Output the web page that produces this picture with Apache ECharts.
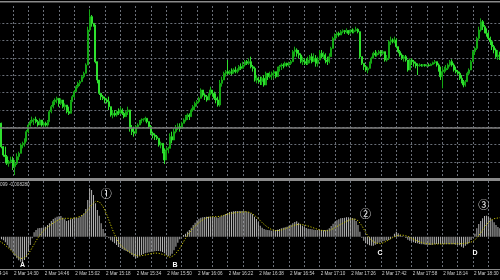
<!DOCTYPE html>
<html><head><meta charset="utf-8">
<script src="https://cdn.jsdelivr.net/npm/echarts@6/dist/echarts.min.js"></script>
<style>html,body{margin:0;padding:0;background:#000;}#c{width:500px;height:280px;}</style>
</head><body><div id="c"></div>
<script>
// minute offset (relative to 2 Mar 14:30) of the first visible M1 bar (14:23)
const firstBarOffset = -7;
const sessionStartLabel = '2 Mar';
// [open, close, low, high] of each M1 candle (price in chart points)
const candles = [
[98,168,93,173],[168,98,93,170],[98,73,68,100],[73,68,48,98],[68,48,43,73],[48,53,38,58],[53,58,48,68],[58,38,28,68],[38,48,13,58],[48,68,43,78],
[68,78,58,83],[78,103,78,108],[103,108,93,113],[108,118,98,123],[118,143,113,148],[143,163,138,168],[163,173,158,178],[173,178,168,188],[178,180,163,183],[180,173,168,188],
[173,163,158,178],[163,178,163,183],[178,163,158,178],[163,168,158,173],[168,163,158,173],[163,173,158,178],[173,203,173,208],[203,218,198,223],[218,233,213,238],[233,238,223,243],
[238,243,228,248],[243,228,218,243],[228,238,223,243],[238,218,213,238],[218,223,208,228],[223,203,198,223],[203,198,193,218],[198,233,198,238],[233,248,233,253],[248,263,243,268],
[263,278,263,283],[278,288,273,293],[288,293,280,298],[293,308,293,313],[308,318,303,323],[318,343,318,348],[343,448,343,458],[448,488,443,510],[488,468,458,493],[468,463,458,468],
[463,353,348,463],[353,298,288,353],[298,258,253,298],[258,248,238,258],[248,243,238,253],[243,238,228,248],[238,233,228,243],[233,218,208,248],[218,193,188,218],[193,198,183,208],
[198,193,188,208],[193,203,188,208],[203,198,193,213],[198,208,198,218],[208,198,193,213],[198,188,183,203],[188,203,188,208],[203,208,193,218],[208,153,143,208],[153,143,133,163],
[143,138,128,158],[138,158,138,163],[158,163,153,168],[163,173,163,178],[173,178,168,183],[178,180,173,183],[180,183,173,188],[183,173,168,183],[173,158,153,173],[158,138,133,163],
[138,133,123,143],[133,128,118,138],[128,123,118,133],[123,103,98,123],[103,108,93,113],[108,83,78,108],[83,58,46,93],[58,88,58,98],[88,93,78,98],[93,128,93,138],
[128,118,108,143],[118,143,118,153],[143,153,138,163],[153,158,148,168],[158,153,143,168],[153,168,153,173],[168,178,168,183],[178,188,173,193],[188,193,178,198],[193,188,178,198],
[188,208,188,213],[208,218,203,223],[218,228,208,233],[228,233,218,238],[233,243,228,248],[243,268,243,273],[268,253,248,268],[253,248,238,258],[248,238,233,253],[238,253,238,258],
[253,268,253,278],[268,258,248,268],[258,243,238,263],[243,238,228,258],[238,223,218,248],[223,288,218,298],[288,298,278,308],[298,318,298,323],[318,323,308,328],[323,318,313,358],
[318,323,313,328],[323,318,313,333],[318,328,318,333],[328,323,318,338],[323,328,318,333],[328,338,323,343],[338,333,328,348],[333,343,333,353],[343,353,338,358],[353,348,343,358],
[348,353,343,363],[353,338,333,368],[338,333,323,343],[333,298,293,338],[298,303,288,313],[303,298,288,308],[298,293,283,308],[293,303,283,308],[303,283,278,313],[283,318,283,323],
[318,308,298,318],[308,313,303,323],[313,318,298,323],[318,323,303,328],[323,308,303,323],[308,333,308,338],[333,338,323,343],[338,343,328,348],[343,341,333,348],[341,348,338,353],
[348,343,338,350],[343,348,338,353],[348,353,343,358],[353,383,353,388],[383,388,368,398],[388,378,368,393],[378,373,363,388],[373,353,348,378],[353,358,343,368],[358,353,343,363],
[353,348,343,363],[348,358,343,368],[358,368,348,373],[368,353,348,378],[353,363,353,378],[363,348,338,373],[348,358,338,368],[358,378,358,388],[378,368,363,388],[368,373,363,383],
[373,358,348,378],[358,353,343,368],[353,368,348,378],[368,393,368,398],[393,423,393,428],[423,433,418,438],[433,438,423,443],[438,433,428,443],[433,443,433,448],[443,446,438,450],
[446,443,436,448],[443,446,438,453],[446,438,433,448],[438,448,438,450],[448,443,438,453],[443,446,438,450],[446,450,443,458],[450,443,438,453],[443,368,363,443],[368,348,343,368],
[348,338,328,348],[338,328,323,343],[328,333,318,338],[333,348,333,353],[348,363,348,368],[363,378,363,383],[378,373,368,388],[373,378,368,383],[378,383,373,388],[383,378,368,388],
[378,383,373,388],[383,358,353,383],[358,363,353,373],[363,413,358,418],[413,418,403,428],[418,413,408,423],[413,418,408,428],[418,398,393,423],[398,383,378,398],[383,373,368,388],
[373,363,358,378],[363,368,353,373],[368,358,353,373],[358,328,323,358],[328,358,328,363],[358,353,343,363],[353,348,338,358],[348,343,333,353],[343,341,313,348],[341,343,338,348],
[343,342,338,346],[342,344,338,345],[344,341,338,346],[341,343,338,345],[343,341,338,348],[341,345,340,348],[345,350,343,353],[350,353,346,358],[353,343,338,353],[343,328,323,348],
[328,308,298,338],[308,323,273,338],[323,328,318,338],[328,333,323,343],[333,343,328,348],[343,353,338,358],[353,343,338,360],[343,328,323,348],[328,323,318,338],[323,318,313,328],
[318,303,298,323],[303,293,288,313],[293,283,276,298],[283,293,278,298],[293,318,293,323],[318,328,313,333],[328,353,328,358],[353,383,353,388],[383,393,373,398],[393,423,388,428],
[423,448,418,458],[448,473,443,483],[473,458,448,478],[458,448,438,463],[448,438,428,453],[438,423,418,443],[423,413,403,428],[413,398,388,418],[398,388,378,403],[388,368,363,393],
[368,373,358,388],[373,368,358,383]
];
// oscillator histogram and its signal line (same bars)
const macdHist = [
-5,-8,-11,-17,-25,-33,-40,-47,-57,-65,-71,-75,-76,-70,-62,-45,-25,-5,13,20,
25,26,27,28,30,35,40,47,53,57,60,61,62,57,52,47,49,52,54,55,
56,57,60,65,70,83,110,145,140,125,100,80,63,40,23,10,2,-5,-11,-15,
-20,-25,-31,-34,-37,-41,-43,-46,-50,-55,-60,-65,-63,-57,-55,-52,-50,-48,-47,-46,
-45,-44,-43,-43,-44,-46,-50,-55,-59,-57,-51,-41,-30,-18,-8,-2,5,9,15,20,
27,35,42,49,54,57,58,59,60,60,60,60,59,58,57,60,63,65,68,71,
74,75,76,77,77,77,77,77,76,75,73,70,67,60,53,43,33,27,23,21,
20,19,18,19,20,21,23,25,27,28,30,33,36,40,44,46,42,37,33,29,
26,24,23,22,21,20,20,20,20,19,19,21,25,32,39,45,49,52,55,56,
57,58,58,57,56,54,47,35,15,-3,-12,-20,-23,-26,-27,-27,-24,-21,-18,-15,
-14,-12,-11,-10,-7,-1,9,15,10,5,2,-1,-4,-9,-12,-14,-17,-19,-20,-22,
-23,-23,-24,-25,-25,-25,-24,-23,-22,-22,-22,-23,-23,-23,-23,-23,-23,-23,-24,-25,
-26,-30,-33,-27,-23,-18,-10,-3,9,25,38,47,55,62,63,61,57,51,43,35,
29,25
];
const macdSignal = [
-13,-17,-21,-26,-31,-36,-41,-47,-53,-59,-63,-66,-66,-63,-58,-51,-43,-33,-23,-13,
-4,5,12,18,23,28,33,37,41,45,48,51,53,54,55,55,55,55,55,56,
57,58,61,64,67,72,79,87,95,101,106,108,105,99,90,78,65,50,35,20,
7,-5,-16,-24,-30,-35,-39,-43,-47,-51,-54,-56,-58,-58,-57,-56,-55,-54,-52,-51,
-50,-49,-49,-50,-51,-53,-55,-57,-60,-62,-60,-56,-50,-43,-35,-25,-15,-5,4,12,
19,26,32,37,42,47,51,54,56,58,59,60,60,60,60,61,62,64,66,68,
69,70,71,72,73,73,74,74,75,75,75,72,68,64,59,54,48,42,37,32,
28,24,21,19,18,18,19,20,22,24,26,28,31,33,35,36,37,37,36,35,
34,32,30,28,26,24,22,20,19,18,18,18,19,21,23,27,31,34,37,40,
43,46,49,51,53,54,52,48,41,33,23,13,3,-5,-11,-15,-18,-20,-21,-21,
-19,-16,-13,-10,-6,-3,0,2,4,5,5,4,3,1,-2,-5,-8,-11,-13,-15,
-17,-19,-20,-21,-22,-22,-22,-22,-22,-22,-22,-22,-22,-21,-21,-21,-21,-21,-21,-21,
-21,-21,-21,-20,-19,-18,-16,-14,-10,-4,3,11,20,28,36,42,48,52,54,55,
56,57
];
const horizontalLevels = [155];
const indicatorCaption = '099 -0.008280';
const waveMarks = [
  {text:'①', x:106.3, y:194.2}, {text:'②', x:365.5, y:214.2}, {text:'③', x:483.7, y:205}
];
const letterMarks = [
  {text:'A', x:22.5, y:265}, {text:'B', x:175, y:265}, {text:'C', x:380, y:253}, {text:'D', x:475, y:253}
];

// ---- layout ----
const xMin = -16, xMax = 256, gridMinutes = 8, labelMinutes = 16;
const x0px = 13, pxPerMin = 1.9167;
const gLeft = x0px + xMin * pxPerMin;
const gWidth = (xMax - xMin) * pxPerMin;
const priceStep = 52.05;
const gridLineStyle = {color:'#6a6f78', width:1, type:[2,2]};

function timeLabel(v){
  if (((v % labelMinutes) + labelMinutes) % labelMinutes !== 0) return '';
  const m = 14*60 + 30 + v;
  const h = Math.floor(m/60), mm = m % 60;
  return sessionStartLabel + ' ' + h + ':' + String(mm).padStart(2,'0');
}

const chart = echarts.init(document.getElementById('c'), null, {renderer:'canvas'});
const candleData = candles.map((c,i)=>[firstBarOffset+i, c[0], c[1], c[2], c[3]]);
const histData = macdHist.map((v,i)=>[firstBarOffset+i, v]);
const sigData = macdSignal.map((v,i)=>[firstBarOffset+i, v]);

const graphics = [
  {type:'rect', shape:{x:0,y:1,width:500,height:1.5}, style:{fill:'#8a8a8a'}, z:100},
  {type:'rect', shape:{x:0,y:178,width:500,height:3}, style:{fill:'#8a8a8a'}, z:100},
  {type:'text', x:0, y:182.3, style:{text:indicatorCaption, fill:'#c8c8c8', font:'4.6px "Liberation Sans"'}, z:100}
];
waveMarks.forEach(w=>graphics.push({type:'text', x:w.x, y:w.y, z:101,
  style:{text:w.text, fill:'#eeeeee', font:'11px "Noto Sans CJK SC"', align:'center', verticalAlign:'middle'}}));
letterMarks.forEach(w=>graphics.push({type:'text', x:w.x, y:w.y, z:101,
  style:{text:w.text, fill:'#ffffff', font:'bold 7px "Liberation Sans"', align:'center', verticalAlign:'middle'}}));

chart.setOption({
  backgroundColor:'#000000',
  animation:false,
  grid:[
    {left:gLeft, top:6, width:gWidth, height:520/3, outerBoundsMode:'none', containLabel:false},
    {left:gLeft, top:181, width:gWidth, height:88, outerBoundsMode:'none', containLabel:false}
  ],
  xAxis:[
    {type:'value', gridIndex:0, min:xMin, max:xMax, interval:gridMinutes,
     axisLine:{show:false}, axisTick:{show:false}, axisLabel:{show:false},
     splitLine:{show:true, showMinLine:false, showMaxLine:false, lineStyle:gridLineStyle}},
    {type:'value', gridIndex:1, min:xMin, max:xMax, interval:gridMinutes,
     axisLine:{show:true, onZero:false, lineStyle:{color:'#8a8a8a', width:1}},
     axisTick:{show:false},
     axisLabel:{show:true, showMinLabel:true, showMaxLabel:false, formatter:timeLabel, align:'left', margin:2.2,
       color:'#d0d0d0', fontSize:4.6, fontFamily:'Liberation Sans', padding:[0,0,0,1]},
     splitLine:{show:true, showMinLine:false, showMaxLine:false, lineStyle:gridLineStyle}}
  ],
  yAxis:[
    {type:'value', gridIndex:0, min:0, max:520, interval:priceStep,
     axisLine:{show:false}, axisTick:{show:false}, axisLabel:{show:false},
     splitLine:{show:true, showMinLine:false, showMaxLine:false, lineStyle:gridLineStyle}},
    {type:'value', gridIndex:1, min:-97, max:167,
     axisLine:{show:false}, axisTick:{show:false}, axisLabel:{show:false}, splitLine:{show:false}}
  ],
  series:[
    {type:'candlestick', xAxisIndex:0, yAxisIndex:0, data:candleData, encode:{x:0, y:[1,2,3,4]},
     barWidth:1.5,
     itemStyle:{color:'#0c8c0c', borderColor:'#14a814', color0:'#4cf04c', borderColor0:'#2ee02e', borderWidth:1},
     markLine:{silent:true, symbol:'none', label:{show:false},
       lineStyle:{color:'#7d7d7d', type:'solid', width:1.5},
       data:horizontalLevels.map(v=>({yAxis:v}))}},
    {type:'bar', xAxisIndex:1, yAxisIndex:1, data:histData, barWidth:1,
     itemStyle:{color:'#b4b4b4'}},
    {type:'line', xAxisIndex:1, yAxisIndex:1, data:sigData, symbol:'none', showSymbol:false,
     lineStyle:{color:'#c8c400', width:1, type:[1.2,1.6]}, z:5}
  ],
  graphic:graphics
});
</script>
</body></html>
